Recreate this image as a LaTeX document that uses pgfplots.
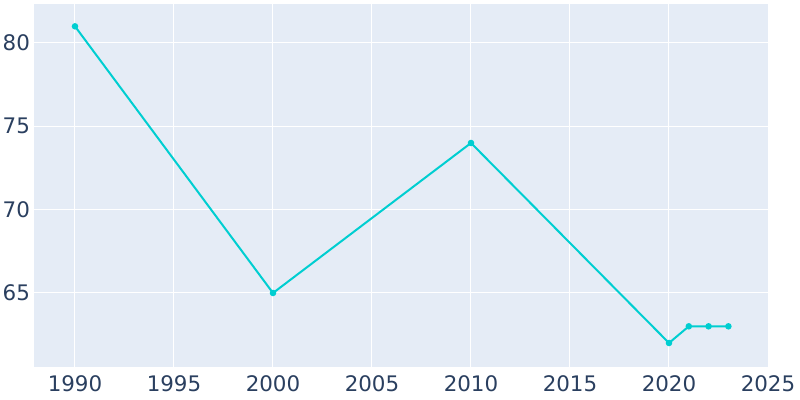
\documentclass[border=0pt]{standalone}
\usepackage{pgfplots}
\pgfplotsset{compat=1.18}
\usepackage{fontspec}
\setmainfont{DejaVu Sans}
\definecolor{bgc}{HTML}{E5ECF6}
\definecolor{txt}{HTML}{2A3F5F}
\definecolor{ln}{HTML}{00CED1}
\begin{document}
\begin{tikzpicture}
\path[use as bounding box] (-17pt,-16.5pt) rectangle (383pt,183.5pt);
\begin{axis}[
  at={(0,0)}, anchor=south west,
  scale only axis, width=367pt, height=181.5pt,
  xmin=1987.93, xmax=2025, ymin=60.56, ymax=82.34,
  axis background/.style={fill=bgc},
  axis line style={draw=none},
  major tick length=0pt,
  xtick={1990,1995,2000,2005,2010,2015,2020,2025},
  ytick={65,70,75,80},
  grid=major,
  major grid style={white, line width=0.5pt},
  tick label style={font=\fontsize{10.7}{12}\selectfont, text=txt},
  /pgf/number format/assume math mode=true,
  x tick label style={/pgf/number format/1000 sep={}, yshift=-0.8pt},
  y tick label style={xshift=1.5pt},
  xticklabel style={/pgf/number format/.cd, set thousands separator={}},
]
\addplot[ln, line width=1pt, mark=*, mark size=1.1pt, mark options={fill=ln, draw=ln}] coordinates {
(1990,81) (2000,65) (2010,74) (2020,62) (2021,63) (2022,63) (2023,63)
};
\end{axis}
\end{tikzpicture}
\end{document}
